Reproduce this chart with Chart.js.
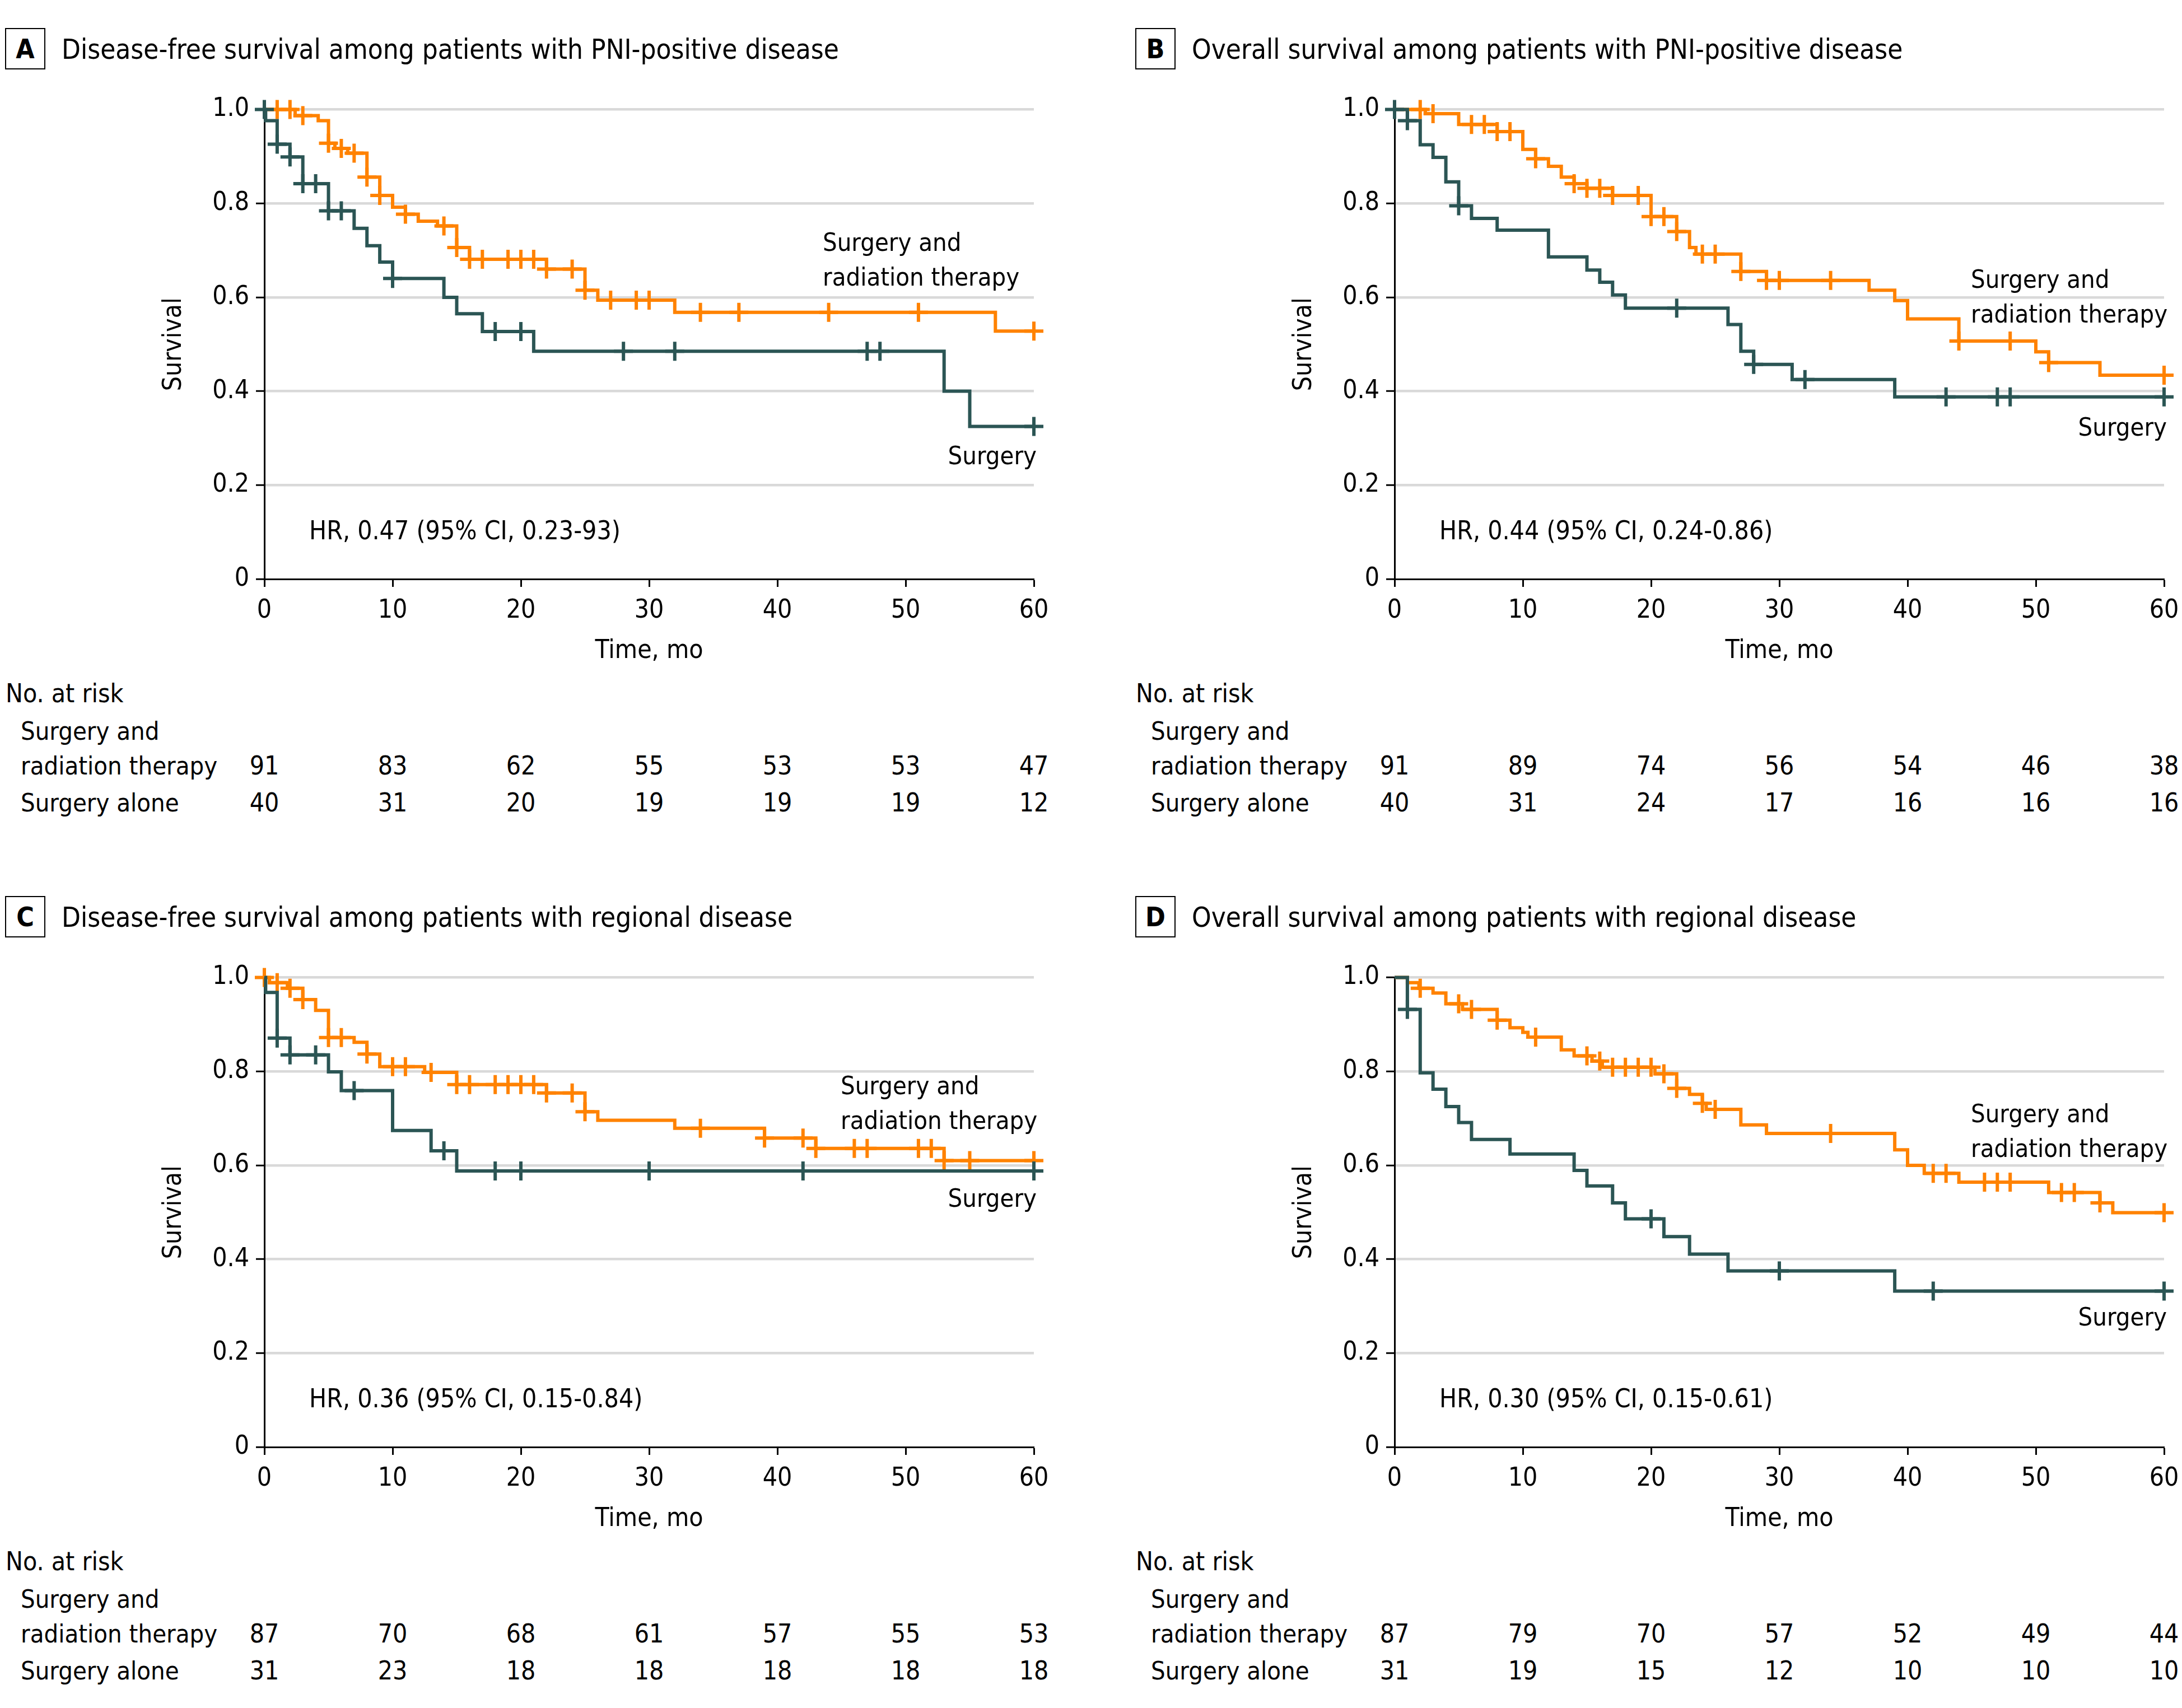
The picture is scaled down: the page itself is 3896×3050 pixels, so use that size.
<!DOCTYPE html>
<html>
<head>
<meta charset="utf-8">
<title>Survival by treatment group</title>
<script src="https://cdn.jsdelivr.net/npm/chart.js@4.4.1/dist/chart.umd.min.js"></script>
<style>
  html, body { margin: 0; padding: 0; background: #fff; }
  body {
    width: 3896px; height: 3050px; position: relative; overflow: hidden;
    font-family: 'DejaVu Sans Condensed', 'DejaVu Sans', sans-serif;
    font-size: 46px; color: #000;
  }
  .panel { position: absolute; width: 1948px; height: 1550px; }
  .txt { position: absolute; white-space: nowrap; line-height: 1; }
  .title { font-size: 49px; }
  .risk { font-size: 45px; }
  .letter {
    position: absolute; left: 9px; top: 50px; width: 72px; height: 74px;
    box-sizing: border-box; border: 2.5px solid #000; font-weight: bold; font-size: 48px;
    display: flex; align-items: center; justify-content: center; line-height: 1;
  }
  canvas { position: absolute; left: 250px; top: 150px; }
</style>
</head>
<body>
<script>
// shared axes
const months = [0, 10, 20, 30, 40, 50, 60];
const survivalTicks = [0, 0.2, 0.4, 0.6, 0.8, 1.0];

// A - disease-free survival, PNI-positive
const aSurgeryTimes = [0.1, 1, 2, 3, 5, 7, 8, 9, 10, 14, 15, 17, 21, 53, 55];
const aSurgerySurv = [0.976, 0.926, 0.899, 0.842, 0.784, 0.747, 0.71, 0.675, 0.64, 0.6, 0.565, 0.527, 0.485, 0.40, 0.325];
const aSurgeryCensored = [0, 1, 2, 3, 4, 5, 6, 10, 18, 20, 28, 32, 47, 48, 60];
const aRadTimes = [2.4, 4.2, 5, 5.5, 6.5, 8, 9, 10, 11, 12, 13.5, 15, 16, 22, 25, 26, 32, 57];
const aRadSurv = [0.987, 0.976, 0.928, 0.917, 0.907, 0.856, 0.817, 0.792, 0.777, 0.762, 0.752, 0.706, 0.681, 0.660, 0.615, 0.594, 0.568, 0.528];
const aRadCensored = [1, 2, 3, 5, 6, 7, 8, 9, 11, 14, 15, 16, 17, 19, 20, 21, 22, 24, 25, 27, 29, 30, 34, 37, 44, 51, 60];
const aRiskRad = [91, 83, 62, 55, 53, 53, 47];
const aRiskSurgery = [40, 31, 20, 19, 19, 19, 12];

// B - overall survival, PNI-positive
const bSurgeryTimes = [1, 2, 3, 4, 5, 6, 8, 12, 15, 16, 17, 18, 26, 27, 28, 31, 39];
const bSurgerySurv = [0.976, 0.925, 0.898, 0.846, 0.795, 0.768, 0.743, 0.686, 0.658, 0.632, 0.605, 0.577, 0.542, 0.485, 0.457, 0.425, 0.388];
const bSurgeryCensored = [0, 1, 5, 22, 28, 32, 43, 47, 48, 60];
const bRadTimes = [2.4, 5, 8, 10, 11, 12, 13, 14, 15, 17, 20, 22, 23, 23.5, 27, 29, 37, 39, 40, 44, 50, 51, 55];
const bRadSurv = [0.991, 0.968, 0.953, 0.915, 0.895, 0.879, 0.856, 0.842, 0.832, 0.817, 0.772, 0.74, 0.706, 0.692, 0.655, 0.636, 0.615, 0.593, 0.554, 0.507, 0.484, 0.461, 0.434];
const bRadCensored = [2, 3, 6, 7, 8, 9, 11, 14, 15, 16, 17, 19, 20, 21, 22, 24, 25, 27, 29, 30, 34, 44, 48, 51, 60];
const bRiskRad = [91, 89, 74, 56, 54, 46, 38];
const bRiskSurgery = [40, 31, 24, 17, 16, 16, 16];

// C - disease-free survival, regional disease
const cSurgeryTimes = [0.1, 1, 2, 5, 6, 10, 13, 15];
const cSurgerySurv = [0.968, 0.871, 0.835, 0.799, 0.759, 0.674, 0.631, 0.588];
const cSurgeryCensored = [1, 2, 4, 7, 14, 18, 20, 30, 42, 60];
const cRadTimes = [0.4, 1.8, 3, 4, 5, 7, 8, 9, 12.5, 15, 22, 25, 26, 32, 39, 43, 53];
const cRadSurv = [0.989, 0.977, 0.953, 0.93, 0.872, 0.862, 0.837, 0.81, 0.798, 0.772, 0.754, 0.714, 0.696, 0.679, 0.658, 0.636, 0.61];
const cRadCensored = [0, 1, 2, 3, 5, 6, 8, 10, 11, 13, 15, 16, 18, 19, 20, 21, 22, 24, 25, 34, 39, 42, 43, 46, 47, 51, 52, 53, 55, 60];
const cRiskRad = [87, 70, 68, 61, 57, 55, 53];
const cRiskSurgery = [31, 23, 18, 18, 18, 18, 18];

// D - overall survival, regional disease
const dSurgeryTimes = [1, 2, 3, 4, 5, 6, 9, 14, 15, 17, 18, 21, 23, 26, 39];
const dSurgerySurv = [0.932, 0.797, 0.762, 0.725, 0.691, 0.655, 0.624, 0.589, 0.556, 0.52, 0.486, 0.448, 0.411, 0.375, 0.332];
const dSurgeryCensored = [1, 20, 30, 42, 60];
const dRadTimes = [1, 1.9, 3, 4, 5.3, 8, 9, 10, 10.4, 13, 14, 15.4, 16.2, 20.3, 22, 23, 24, 24.3, 27, 29, 39, 40, 41.3, 44, 51, 55, 56];
const dRadSurv = [0.989, 0.977, 0.967, 0.944, 0.932, 0.909, 0.893, 0.883, 0.873, 0.846, 0.833, 0.822, 0.809, 0.795, 0.764, 0.751, 0.732, 0.719, 0.686, 0.668, 0.633, 0.6, 0.583, 0.564, 0.542, 0.52, 0.499];
const dRadCensored = [2, 5, 6, 8, 11, 15, 16, 17, 18, 19, 20, 21, 22, 24, 25, 34, 42, 43, 46, 47, 48, 52, 53, 55, 60];
const dRiskRad = [87, 79, 70, 57, 52, 49, 44];
const dRiskSurgery = [31, 19, 15, 12, 10, 10, 10];

const orange = '#ff8200';
const teal = '#2b5554';
const fontFamily = "'DejaVu Sans Condensed', 'DejaVu Sans', sans-serif";
const fontSize = 46;

const panels = [
    { letter: 'A', left: 0, top: 0, title: 'Disease-free survival among patients with PNI-positive disease',
      hr: 'HR, 0.47 (95% CI, 0.23-93)',
      surgery: [aSurgeryTimes, aSurgerySurv, aSurgeryCensored], rad: [aRadTimes, aRadSurv, aRadCensored],
      risk: [aRiskRad, aRiskSurgery], radLabel: [1469, 432], surgLabel: 813 },
    { letter: 'B', left: 2018, top: 0, title: 'Overall survival among patients with PNI-positive disease',
      hr: 'HR, 0.44 (95% CI, 0.24-0.86)',
      surgery: [bSurgeryTimes, bSurgerySurv, bSurgeryCensored], rad: [bRadTimes, bRadSurv, bRadCensored],
      risk: [bRiskRad, bRiskSurgery], radLabel: [1501, 498], surgLabel: 762 },
    { letter: 'C', left: 0, top: 1550, title: 'Disease-free survival among patients with regional disease',
      hr: 'HR, 0.36 (95% CI, 0.15-0.84)',
      surgery: [cSurgeryTimes, cSurgerySurv, cSurgeryCensored], rad: [cRadTimes, cRadSurv, cRadCensored],
      risk: [cRiskRad, cRiskSurgery], radLabel: [1501, 388], surgLabel: 589 },
    { letter: 'D', left: 2018, top: 1550, title: 'Overall survival among patients with regional disease',
      hr: 'HR, 0.30 (95% CI, 0.15-0.61)',
      surgery: [dSurgeryTimes, dSurgerySurv, dSurgeryCensored], rad: [dRadTimes, dRadSurv, dRadCensored],
      risk: [dRiskRad, dRiskSurgery], radLabel: [1501, 438], surgLabel: 801 }
];

function survivalAt(times, surv, t) {
    let s = 1;
    for (let i = 0; i < times.length; i++) {
        if (times[i] <= t) s = surv[i];
    }
    return s;
}

function curvePoints(times, surv) {
    const pts = [{ x: 0, y: 1 }];
    times.forEach((t, i) => pts.push({ x: t, y: surv[i] }));
    pts.push({ x: 60, y: surv[surv.length - 1] });
    return pts;
}

function censorPoints(times, surv, censored) {
    return censored.map(t => ({ x: t, y: survivalAt(times, surv, t) }));
}

function addText(parent, text, x, y, align, cls) {
    const d = document.createElement('div');
    d.className = cls ? 'txt ' + cls : 'txt';
    d.textContent = text;
    d.style.left = x + 'px';
    d.style.top = y + 'px';
    const tx = align === 'right' ? '-100%' : align === 'center' ? '-50%' : '0';
    d.style.transform = 'translate(' + tx + ', -50%)';
    parent.appendChild(d);
    return d;
}

function curveDataset(series, color) {
    return {
        data: curvePoints(series[0], series[1]),
        borderColor: color,
        borderWidth: 6,
        stepped: 'before',
        pointRadius: 0,
        fill: false,
        clip: false
    };
}

function censorDataset(series, color) {
    return {
        data: censorPoints(series[0], series[1], series[2]),
        showLine: false,
        pointStyle: 'cross',
        pointRadius: 17,
        pointBorderWidth: 6,
        pointBorderColor: color,
        pointBackgroundColor: color,
        borderColor: color,
        clip: false
    };
}

function buildPanel(p) {
    const el = document.createElement('div');
    el.className = 'panel';
    el.style.left = p.left + 'px';
    el.style.top = p.top + 'px';
    document.body.appendChild(el);

    const box = document.createElement('div');
    box.className = 'letter';
    box.textContent = p.letter;
    el.appendChild(box);
    addText(el, p.title, 110, 88, 'left', 'title');

    const canvas = document.createElement('canvas');
    canvas.width = 1650;
    canvas.height = 1050;
    el.appendChild(canvas);

    const font = { family: fontFamily, size: fontSize };

    const chart = new Chart(canvas, {
        type: 'line',
        data: {
            datasets: [
                censorDataset(p.surgery, teal),
                curveDataset(p.surgery, teal),
                censorDataset(p.rad, orange),
                curveDataset(p.rad, orange)
            ]
        },
        options: {
            responsive: false,
            animation: false,
            devicePixelRatio: 1,
            layout: { padding: { top: 45.5, right: 54, bottom: 0, left: 0 } },
            plugins: { legend: { display: false }, tooltip: { enabled: false } },
            scales: {
                x: {
                    type: 'linear',
                    min: 0,
                    max: 60,
                    afterBuildTicks: s => { s.ticks = months.map(v => ({ value: v })); },
                    afterFit: s => { s.height = 166; s.paddingLeft = 0; s.paddingRight = 0; },
                    ticks: { color: '#000', font: font, padding: 15, maxRotation: 0, autoSkip: false },
                    grid: { drawOnChartArea: false, drawTicks: true, tickLength: 14, tickColor: '#000', tickWidth: 3 },
                    border: { display: true, color: '#000', width: 3 },
                    title: { display: true, text: 'Time, mo', color: '#000', font: font, padding: { top: 0, bottom: 9 } }
                },
                y: {
                    type: 'linear',
                    min: 0,
                    max: 1,
                    afterBuildTicks: s => { s.ticks = survivalTicks.map(v => ({ value: v })); },
                    afterFit: s => { s.width = 222; s.paddingTop = 0; s.paddingBottom = 0; },
                    ticks: {
                        color: '#000', font: font, padding: 12,
                        callback: v => v === 0 ? '0' : v.toFixed(1)
                    },
                    grid: {
                        color: c => (c.tick && c.tick.value === 0) ? 'rgba(0,0,0,0)' : '#d9d9d9',
                        lineWidth: 4.5, tickLength: 15, tickColor: '#000', tickWidth: 3
                    },
                    border: { display: true, color: '#000', width: 3 },
                    title: { display: true, text: 'Survival', color: '#000', font: font, padding: { top: 33, bottom: 0 } }
                }
            }
        }
    });

    // text inside the plot
    addText(el, p.hr, 552, 947, 'left');
    addText(el, 'Surgery and', p.radLabel[0], p.radLabel[1], 'left', 'risk');
    addText(el, 'radiation therapy', p.radLabel[0], p.radLabel[1] + 62, 'left', 'risk');
    addText(el, 'Surgery', 1851, p.surgLabel, 'right', 'risk');

    // number at risk table
    addText(el, 'No. at risk', 10, 1238, 'left');
    addText(el, 'Surgery and', 37, 1305, 'left', 'risk');
    addText(el, 'radiation therapy', 37, 1367, 'left', 'risk');
    addText(el, 'Surgery alone', 37, 1433, 'left', 'risk');
    const xScale = chart.scales.x;
    months.forEach((m, i) => {
        const x = 250 + xScale.getPixelForValue(m);
        addText(el, String(p.risk[0][i]), x, 1367, 'center');
        addText(el, String(p.risk[1][i]), x, 1433, 'center');
    });
}

panels.forEach(buildPanel);
</script>
</body>
</html>
